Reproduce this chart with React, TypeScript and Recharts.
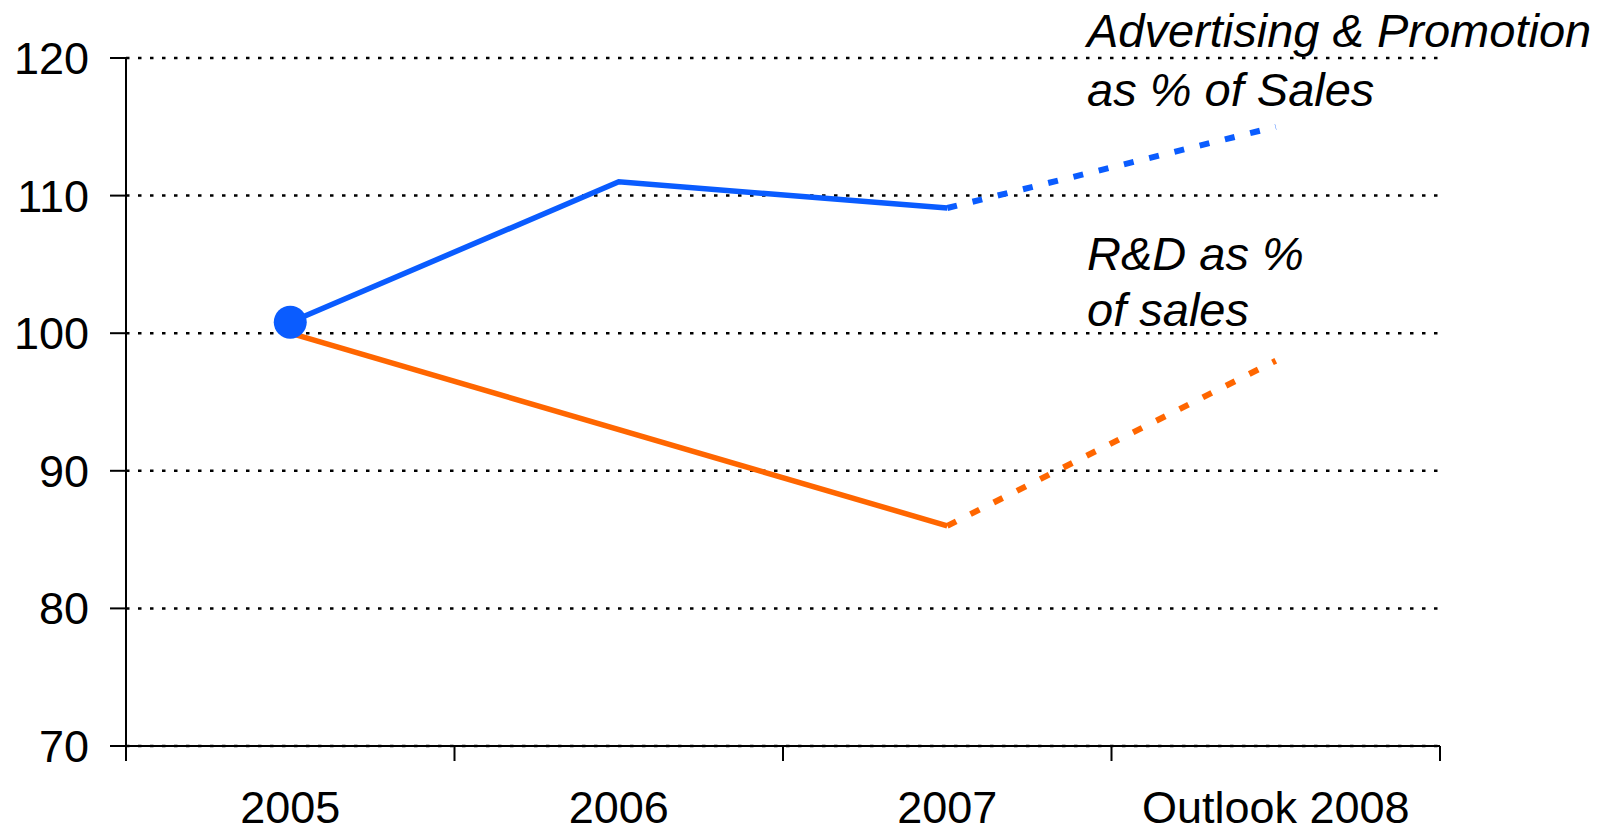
import React from 'react';
import { LineChart, Line, XAxis, YAxis, CartesianGrid, Customized } from 'recharts';

const years = ['2005', '2006', '2007', 'Outlook 2008'];
const adActual = [100.8, 111, 109.1, null];
const adOutlook = [null, null, 109.1, 115];
const rdActual = [100, null, 86, null];
const rdOutlook = [null, null, 86, 98];
const yTicks = [70, 80, 90, 100, 110, 120];

const data = years.map((year, i) => ({
    year,
    adActual: adActual[i],
    adOutlook: adOutlook[i],
    rdActual: rdActual[i],
    rdOutlook: rdOutlook[i],
}));

const BLUE = '#0A5CFF';
const ORANGE = '#FF6600';
const FONT = '"Liberation Sans", Arial, sans-serif';

const W = 1618;
const H = 833;
const M = { top: 58, right: 178, left: 0, bottom: 0 };
const Y_W = 126;
const X_H = 87;
const HALF_BAND = (W - M.left - M.right - Y_W) / years.length / 2;

// category ticks sit on band edges, labels in the middle
const YearTick = (props: any) => {
    const { x, y, payload, index } = props;
    return (
        <g>
            <line x1={x - HALF_BAND} x2={x - HALF_BAND} y1={y} y2={y + 15} stroke="#000" strokeWidth={2} />
            {index === years.length - 1 && (
                <line x1={x + HALF_BAND} x2={x + HALF_BAND} y1={y} y2={y + 15} stroke="#000" strokeWidth={2} />
            )}
            <text x={x} y={y + 77} textAnchor="middle" fontSize={45} fontFamily={FONT} fill="#000">
                {payload.value}
            </text>
        </g>
    );
};

const FirstDot = (props: any) => {
    const { cx, cy, index } = props;
    if (index !== 0 || cx == null) return <g key={`d-${index}`} />;
    return <circle key={`d-${index}`} cx={cx} cy={cy} r={16.5} fill={BLUE} />;
};

const Notes = () => (
    <g fontFamily={FONT} fontStyle="italic" fontSize={47} fill="#000">
        <text x={1087} y={46.5}>Advertising &amp; Promotion</text>
        <text x={1087} y={105.5}>as % of Sales</text>
        <text x={1087} y={270}>R&amp;D as %</text>
        <text x={1087} y={326}>of sales</text>
    </g>
);

export default function App() {
    return (
        <div style={{ position: 'absolute', left: 0, top: 0, width: W, height: H, background: '#fff' }}>
            <LineChart width={W} height={H} data={data} margin={M}>
                <CartesianGrid vertical={false} stroke="#000" strokeWidth={2.5} strokeDasharray="3.5 8.5" />
                <XAxis
                    dataKey="year"
                    height={X_H}
                    padding={{ left: HALF_BAND, right: HALF_BAND }}
                    axisLine={{ stroke: '#000', strokeWidth: 2 }}
                    tickLine={false}
                    tickSize={0}
                    tickMargin={0}
                    tick={<YearTick />}
                    interval={0}
                />
                <YAxis
                    width={Y_W}
                    domain={[70, 120]}
                    ticks={yTicks}
                    allowDataOverflow
                    axisLine={{ stroke: '#000', strokeWidth: 2 }}
                    tickLine={{ stroke: '#000', strokeWidth: 2 }}
                    tickSize={16}
                    tickMargin={21}
                    tick={{ fontSize: 45, fontFamily: FONT, fill: '#000' }}
                />
                <Line dataKey="rdActual" stroke={ORANGE} strokeWidth={5.5} dot={false} connectNulls isAnimationActive={false} />
                <Line dataKey="rdOutlook" stroke={ORANGE} strokeWidth={6} strokeDasharray="10 16" dot={false} isAnimationActive={false} />
                <Line dataKey="adActual" stroke={BLUE} strokeWidth={5.5} dot={<FirstDot />} isAnimationActive={false} />
                <Line dataKey="adOutlook" stroke={BLUE} strokeWidth={6} strokeDasharray="10 16" dot={false} isAnimationActive={false} />
                <Customized component={Notes} />
            </LineChart>
        </div>
    );
}
